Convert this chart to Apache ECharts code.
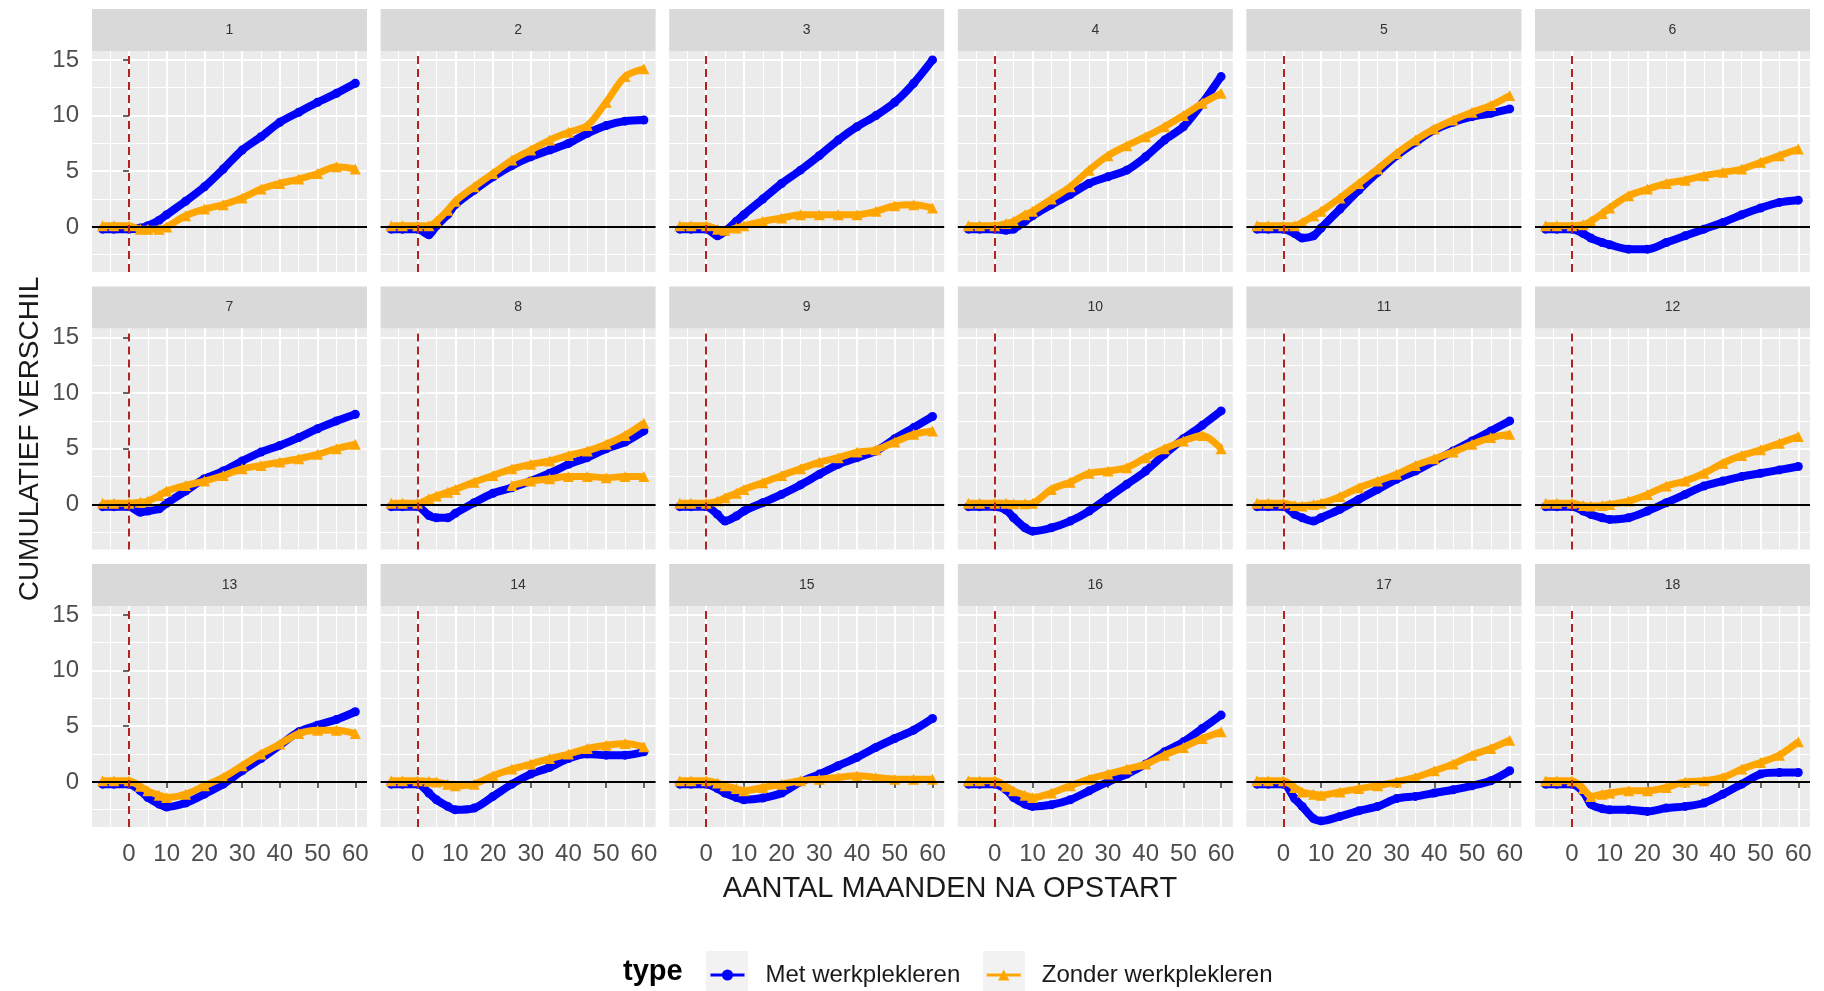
<!DOCTYPE html>
<html lang="nl">
<head>
<meta charset="utf-8">
<script src="https://cdn.jsdelivr.net/npm/echarts@6/dist/echarts.min.js"></script>
</head>
<body style="margin:0;background:#fff">
<div id="container" style="width:1824px;height:991px"></div>
<script type="text/javascript">
// maanden na opstart (gedeelde x-waarden)
var months = [-7, -4, 0, 3, 5, 8, 10, 15, 20, 25, 30, 35, 40, 45, 50, 55, 60];
var panelNames = ['1', '2', '3', '4', '5', '6', '7', '8', '9', '10', '11', '12', '13', '14', '15', '16', '17', '18'];

// Met werkplekleren, per panel
var met = [
    [-0.2, -0.2, -0.2, -0.1, 0.1, 0.6, 1.1, 2.3, 3.6, 5.2, 6.9, 8.1, 9.4, 10.3, 11.2, 12.0, 12.9],
    [-0.2, -0.2, -0.2, -0.7, 0.1, 1.1, 2.0, 3.3, 4.5, 5.5, 6.3, 6.9, 7.5, 8.4, 9.1, 9.5, 9.6],
    [-0.2, -0.2, -0.2, -0.8, -0.4, 0.5, 1.1, 2.5, 3.9, 5.1, 6.4, 7.8, 9.0, 10.0, 11.2, 12.9, 15.0],
    [-0.2, -0.2, -0.2, -0.3, -0.2, 0.5, 1.0, 2.0, 2.9, 3.9, 4.5, 5.1, 6.3, 7.8, 9.0, 11.1, 13.5],
    [-0.2, -0.2, -0.2, -0.6, -1.0, -0.8, -0.1, 1.6, 3.3, 4.9, 6.4, 7.6, 8.7, 9.4, 9.9, 10.2, 10.6],
    [-0.2, -0.2, -0.2, -0.6, -1.0, -1.4, -1.6, -2.0, -2.0, -1.4, -0.8, -0.2, 0.4, 1.1, 1.7, 2.2, 2.4],
    [-0.2, -0.2, -0.2, -0.7, -0.6, -0.4, 0.1, 1.2, 2.3, 3.0, 3.9, 4.7, 5.3, 6.0, 6.8, 7.5, 8.1],
    [-0.2, -0.2, -0.2, -1.0, -1.2, -1.2, -0.8, 0.15, 1.0, 1.5, 2.1, 2.8, 3.6, 4.2, 5.0, 5.6, 6.6],
    [-0.2, -0.2, -0.2, -0.9, -1.5, -1.05, -0.6, 0.15, 0.9, 1.75, 2.7, 3.6, 4.2, 4.8, 5.9, 6.9, 7.9],
    [-0.2, -0.2, -0.2, -0.5, -1.2, -2.1, -2.4, -2.1, -1.5, -0.6, 0.6, 1.8, 3.0, 4.5, 5.9, 7.1, 8.4],
    [-0.2, -0.2, -0.2, -0.9, -1.2, -1.5, -1.2, -0.45, 0.45, 1.35, 2.25, 3.0, 3.9, 4.8, 5.7, 6.6, 7.5],
    [-0.2, -0.2, -0.2, -0.6, -0.9, -1.2, -1.35, -1.2, -0.6, 0.15, 0.9, 1.65, 2.1, 2.5, 2.8, 3.1, 3.4],
    [-0.2, -0.2, -0.2, -0.8, -1.4, -2.0, -2.25, -1.9, -1.1, -0.2, 1.0, 2.1, 3.3, 4.5, 5.1, 5.6, 6.3],
    [-0.2, -0.2, -0.2, -1.0, -1.6, -2.2, -2.5, -2.35, -1.3, -0.2, 0.7, 1.3, 2.1, 2.5, 2.4, 2.4, 2.7],
    [-0.2, -0.2, -0.2, -0.6, -1.0, -1.4, -1.6, -1.45, -1.0, 0.0, 0.7, 1.45, 2.2, 3.1, 3.9, 4.65, 5.7],
    [-0.2, -0.2, -0.2, -0.7, -1.4, -2.0, -2.2, -2.05, -1.6, -0.8, 0.0, 0.7, 1.6, 2.7, 3.6, 4.8, 6.0],
    [-0.2, -0.2, -0.2, -1.5, -2.2, -3.3, -3.5, -3.1, -2.6, -2.2, -1.5, -1.3, -1.0, -0.7, -0.35, 0.1, 1.0],
    [-0.2, -0.2, -0.2, -0.9, -2.0, -2.4, -2.5, -2.5, -2.65, -2.35, -2.2, -1.9, -1.1, -0.2, 0.7, 0.85, 0.85]
];

// Zonder werkplekleren, per panel
var zonder = [
    [0.1, 0.1, 0.1, -0.2, -0.2, -0.2, 0.0, 1.0, 1.6, 2.0, 2.6, 3.4, 3.9, 4.3, 4.8, 5.4, 5.2],
    [0.1, 0.1, 0.1, 0.1, 0.5, 1.5, 2.3, 3.6, 4.8, 6.0, 6.9, 7.8, 8.5, 9.1, 11.2, 13.5, 14.2],
    [0.1, 0.1, 0.1, -0.2, -0.3, -0.1, 0.1, 0.5, 0.8, 1.1, 1.1, 1.1, 1.1, 1.4, 1.9, 2.0, 1.7],
    [0.1, 0.1, 0.1, 0.3, 0.5, 1.1, 1.4, 2.5, 3.6, 5.1, 6.4, 7.3, 8.1, 9.0, 10.0, 11.1, 12.0],
    [0.1, 0.1, 0.1, 0.1, 0.4, 1.0, 1.4, 2.6, 3.9, 5.2, 6.6, 7.8, 8.8, 9.6, 10.3, 10.9, 11.8],
    [0.1, 0.1, 0.1, 0.2, 0.5, 1.2, 1.7, 2.8, 3.4, 3.9, 4.2, 4.6, 4.9, 5.2, 5.8, 6.4, 7.0],
    [0.1, 0.1, 0.1, 0.2, 0.3, 0.8, 1.2, 1.7, 2.1, 2.6, 3.2, 3.5, 3.8, 4.1, 4.5, 5.0, 5.4],
    [0.1, 0.1, 0.1, 0.5, 0.75, 1.1, 1.35, 2.0, 2.6, 3.2, 3.6, 3.9, 4.4, 4.8, 5.4, 6.2, 7.3],
    [0.1, 0.1, 0.1, 0.3, 0.6, 1.0, 1.35, 1.95, 2.6, 3.2, 3.8, 4.2, 4.7, 4.9, 5.6, 6.3, 6.6],
    [0.1, 0.1, 0.1, 0.1, 0.05, 0.05, 0.1, 1.35, 2.0, 2.8, 3.0, 3.3, 4.2, 5.0, 5.7, 6.2, 5.0],
    [0.1, 0.1, 0.1, -0.1, -0.15, 0.0, 0.1, 0.7, 1.5, 2.1, 2.7, 3.5, 4.1, 4.7, 5.4, 6.0, 6.3],
    [0.1, 0.1, 0.1, -0.1, -0.15, -0.1, 0.0, 0.3, 0.9, 1.65, 2.1, 2.8, 3.7, 4.4, 4.9, 5.5, 6.1],
    [0.1, 0.1, 0.1, -0.4, -0.8, -1.2, -1.4, -1.1, -0.35, 0.4, 1.45, 2.5, 3.4, 4.35, 4.65, 4.65, 4.35],
    [0.1, 0.1, 0.1, 0.05, 0.0, -0.2, -0.35, -0.2, 0.55, 1.15, 1.6, 2.1, 2.5, 3.0, 3.3, 3.45, 3.15],
    [0.1, 0.1, 0.1, -0.1, -0.35, -0.6, -0.8, -0.5, -0.2, 0.1, 0.25, 0.4, 0.55, 0.4, 0.25, 0.25, 0.25],
    [0.1, 0.1, 0.1, -0.4, -0.8, -1.2, -1.4, -1.0, -0.35, 0.25, 0.7, 1.15, 1.6, 2.4, 3.1, 3.9, 4.5],
    [0.1, 0.1, 0.1, -0.5, -0.9, -1.1, -1.2, -0.9, -0.6, -0.35, 0.0, 0.4, 1.0, 1.6, 2.4, 3.0, 3.75],
    [0.1, 0.1, 0.1, -0.6, -1.3, -1.1, -1.0, -0.8, -0.8, -0.5, 0.0, 0.1, 0.4, 1.15, 1.75, 2.4, 3.6]
];

// panel 8: onderste tak van de waaier (zonder werkplekleren)
var lowMonths8 = [25, 30, 35, 40, 45, 50, 55, 60];
var lowZonder8 = [1.7, 2.1, 2.3, 2.5, 2.5, 2.4, 2.5, 2.5];

var xTicks = [0, 10, 20, 30, 40, 50, 60];
var yTicks = [0, 5, 10, 15];

var font = 'Liberation Sans, Arial, sans-serif';
var blue = '#0000ff', orange = '#ffa500';

function pairs(xs, ys) {
    return xs.map(function (x, k) { return [x, ys[k]]; });
}

var myChart = echarts.init(document.getElementById('container'));

var grids = [], xAxes = [], yAxes = [], series = [], graphics = [];
var left0 = 92, colStep = 288.6, panelW = 275, top0 = 51, rowStep = 277.5, plotH = 221, stripH = 42;

panelNames.forEach(function (name, i) {
    var col = i % 6, row = Math.floor(i / 6);
    var l = left0 + col * colStep, t = top0 + row * rowStep;
    grids.push({left: l, top: t, width: panelW, height: plotH, show: true,
        backgroundColor: '#ebebeb', borderWidth: 0, containLabel: false});

    xAxes.push({
        type: 'value', gridIndex: i, min: -9.8, max: 63.1, splitNumber: 7,
        axisLine: {show: false},
        axisTick: {show: row === 2, customValues: xTicks, length: 6, lineStyle: {color: '#333', width: 1.5}},
        axisLabel: {show: row === 2, customValues: xTicks, fontSize: 24, color: '#4d4d4d', margin: 15, fontFamily: font},
        splitLine: {show: true, lineStyle: {color: '#fff', width: 2}},
        minorTick: {show: false, splitNumber: 2},
        minorSplitLine: {show: true, lineStyle: {color: '#fff', width: 1}}
    });
    var ya = {
        type: 'value', gridIndex: i, min: -4.05, max: 15.8, splitNumber: 4,
        axisLine: {show: false},
        axisTick: {show: col === 0, customValues: yTicks, length: 6, lineStyle: {color: '#333', width: 1.5}},
        axisLabel: {show: col === 0, customValues: yTicks, fontSize: 24, color: '#4d4d4d', margin: 13, fontFamily: font},
        splitLine: {show: true, lineStyle: {color: '#fff', width: 2}},
        minorTick: {show: false, splitNumber: 2},
        minorSplitLine: {show: true, lineStyle: {color: '#fff', width: 1}}
    };
    if (i === 6) {
        ya.name = 'CUMULATIEF VERSCHIL';
        ya.nameLocation = 'middle';
        ya.nameGap = 48;
        ya.nameTextStyle = {fontSize: 28, color: '#1a1a1a', fontFamily: font};
    }
    yAxes.push(ya);

    series.push({
        name: 'Met werkplekleren', type: 'line', xAxisIndex: i, yAxisIndex: i,
        data: pairs(months, met[i]), smooth: 0.3,
        symbol: 'circle', symbolSize: 9, color: blue,
        lineStyle: {color: blue, width: 8}, itemStyle: {color: blue}, z: 3
    });
    series.push({
        name: 'Zonder werkplekleren', type: 'line', xAxisIndex: i, yAxisIndex: i,
        data: pairs(months, zonder[i]), smooth: 0.3,
        symbol: 'triangle', symbolSize: 11, color: orange,
        lineStyle: {color: orange, width: 7}, itemStyle: {color: orange}, z: 4,
        markLine: {
            silent: true, symbol: 'none', label: {show: false}, animation: false,
            data: [
                {yAxis: 0, lineStyle: {color: '#000', width: 1.8, type: 'solid'}},
                {xAxis: 0, lineStyle: {color: '#b22222', width: 2, type: [8, 5]}}
            ]
        }
    });
    if (i === 7) {
        series.push({
            name: 'Zonder werkplekleren', type: 'line', xAxisIndex: i, yAxisIndex: i,
            data: pairs(lowMonths8, lowZonder8), smooth: 0.3,
            symbol: 'triangle', symbolSize: 11, color: orange,
            lineStyle: {color: orange, width: 7}, itemStyle: {color: orange}, z: 4
        });
    }

    // strip
    graphics.push({type: 'rect', shape: {x: l, y: t - stripH, width: panelW, height: stripH},
        style: {fill: '#d9d9d9'}, z: 0});
    graphics.push({type: 'text', x: l + panelW / 2, y: t - stripH / 2,
        style: {text: name, fill: '#333', font: '14px ' + font, textAlign: 'center', textVerticalAlign: 'middle'}, z: 1});
});

// legenda-achtergrond en titels
graphics.push({type: 'rect', shape: {x: 706, y: 951, width: 42, height: 40}, style: {fill: '#f2f2f2'}, z: 0});
graphics.push({type: 'rect', shape: {x: 983, y: 951, width: 42, height: 40}, style: {fill: '#f2f2f2'}, z: 0});
graphics.push({type: 'text', x: 623, y: 972,
    style: {text: 'type', fill: '#000', font: 'bold 29px ' + font, textAlign: 'left', textVerticalAlign: 'middle'}, z: 1});
graphics.push({type: 'text', x: 950, y: 889,
    style: {text: 'AANTAL MAANDEN NA OPSTART', fill: '#1a1a1a', font: '29px ' + font, textAlign: 'center', textVerticalAlign: 'middle'}, z: 1});

var option = {
    animation: false,
    backgroundColor: '#fff',
    textStyle: {fontFamily: font},
    grid: grids,
    xAxis: xAxes,
    yAxis: yAxes,
    legend: {
        data: ['Met werkplekleren', 'Zonder werkplekleren'],
        left: 704, top: 958, itemWidth: 34, itemHeight: 14, itemGap: 25,
        textStyle: {fontSize: 24, color: '#1a1a1a', fontFamily: font, padding: [0, 0, 0, 16]},
        lineStyle: {width: 3},
        selectedMode: false
    },
    graphic: graphics,
    series: series
};
myChart.setOption(option);
</script>
</body>
</html>
